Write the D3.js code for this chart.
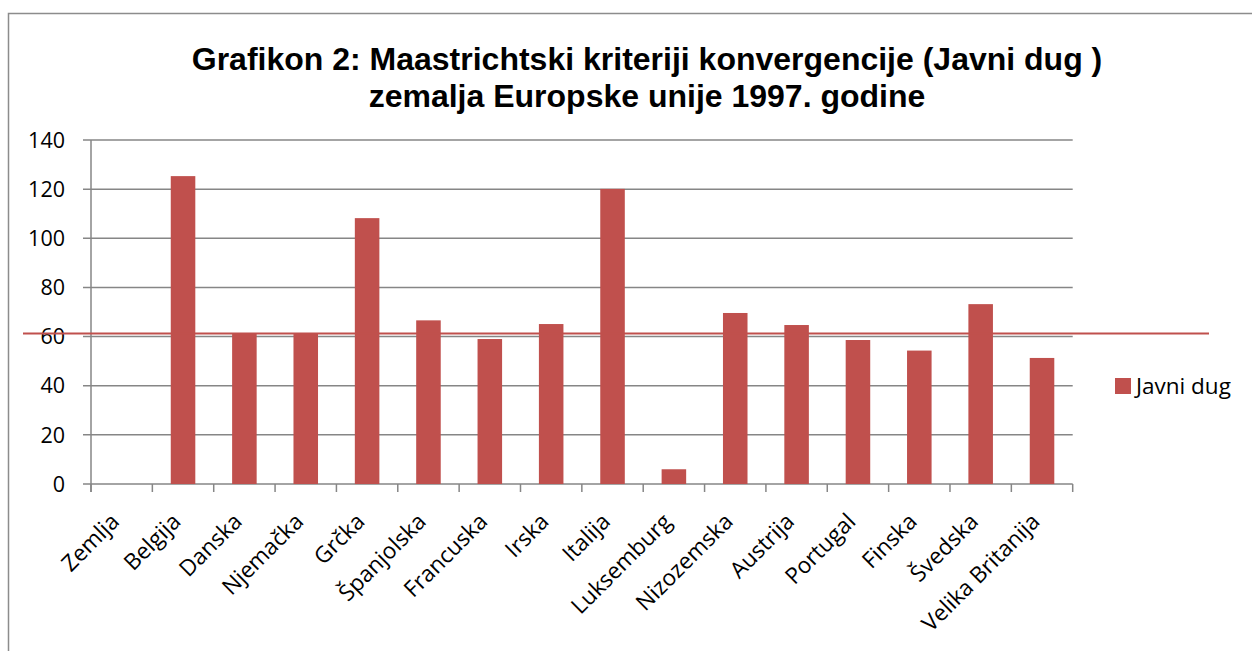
<!DOCTYPE html>
<html>
<head>
<meta charset="utf-8">
<script src="https://cdn.jsdelivr.net/npm/d3@7"></script>
<style>
  body { margin: 0; background: #fff; }
  svg { display: block; }
</style>
</head>
<body>
<svg id="chart"></svg>
<script>
'use strict'

// data
const categories = ['Zemlja', 'Belgija', 'Danska', 'Njemačka', 'Grčka', 'Španjolska', 'Francuska', 'Irska',
  'Italija', 'Luksemburg', 'Nizozemska', 'Austrija', 'Portugal', 'Finska', 'Švedska', 'Velika Britanija']
const javniDug = [null, 125.3, 61.4, 61.3, 108.2, 66.6, 59.0, 65.1, 120.1, 6.0, 69.6, 64.7, 58.6, 54.3, 73.2, 51.3]
const yTicks = [0, 20, 40, 60, 80, 100, 120, 140]
const seriesName = 'Javni dug'
const limitValue = 61.3 // the hand-drawn red line
const titleLines = ['Grafikon 2: Maastrichtski kriteriji konvergencije (Javni dug )', 'zemalja Europske unije 1997. godine']

const width = 1252
const height = 651
const red = '#c0504d'
const grid = '#868686'
const labelFont = 'Open Sans, Noto Sans, sans-serif'

const plot = { left: 91, right: 1072.7, top: 140, bottom: 484 }

const svg = d3.select('#chart').attr('width', width).attr('height', height)

// outer frame of the chart object
svg.append('rect')
  .attr('x', 8.5).attr('y', 13.5)
  .attr('width', 1260).attr('height', 660)
  .attr('fill', 'none').attr('stroke', '#8c8c8c').attr('stroke-width', 1.5)

// title
svg.append('text')
  .attr('text-anchor', 'middle')
  .attr('font-family', 'Liberation Sans, Arial, sans-serif')
  .attr('font-weight', 'bold')
  .attr('font-size', 32)
  .selectAll('tspan')
  .data(titleLines)
  .enter().append('tspan')
    .attr('x', 647)
    .attr('y', (d, i) => 70 + i * 37)
    .text(d => d)

const x = d3.scaleBand().domain(categories).range([plot.left, plot.right]).paddingInner(0.6).paddingOuter(0.3)
const xStep = x.step()
const y = d3.scaleLinear().domain([0, 140]).range([plot.bottom, plot.top])

// horizontal gridlines
svg.append('g')
  .selectAll('line')
  .data(yTicks)
  .enter().append('line')
    .attr('x1', plot.left - 8).attr('x2', plot.right)
    .attr('y1', d => y(d)).attr('y2', d => y(d))
    .attr('stroke', grid).attr('stroke-width', 1.5)

// y axis line
svg.append('line')
  .attr('x1', plot.left).attr('x2', plot.left)
  .attr('y1', plot.top).attr('y2', plot.bottom + 8)
  .attr('stroke', grid).attr('stroke-width', 1.5)

// y labels
svg.append('g')
  .selectAll('text')
  .data(yTicks)
  .enter().append('text')
    .attr('x', 65)
    .attr('y', d => y(d))
    .attr('dy', '0.36em')
    .attr('text-anchor', 'end')
    .attr('font-family', labelFont)
    .attr('font-size', 21.5)
    .attr('fill', '#000')
    .text(d => d)

// x tick marks (between categories)
const xTickPos = d3.range(categories.length + 1).map(i => plot.left + i * xStep)
svg.append('g')
  .selectAll('line')
  .data(xTickPos)
  .enter().append('line')
    .attr('x1', d => d).attr('x2', d => d)
    .attr('y1', plot.bottom).attr('y2', plot.bottom + 8)
    .attr('stroke', grid).attr('stroke-width', 1.5)

// bars
svg.append('g')
  .selectAll('rect')
  .data(categories.map((c, i) => ({ c, v: javniDug[i] })).filter(d => d.v != null))
  .enter().append('rect')
    .attr('x', d => x(d.c))
    .attr('y', d => y(d.v))
    .attr('width', x.bandwidth())
    .attr('height', d => y(0) - y(d.v))
    .attr('fill', red)

// x labels rotated
svg.append('g')
  .selectAll('text')
  .data(categories)
  .enter().append('text')
    .attr('text-anchor', 'end')
    .attr('font-family', labelFont)
    .attr('font-size', 22.5)
    .attr('fill', '#000')
    .attr('transform', d => 'translate(' + (x(d) + x.bandwidth() / 2 - 1) + ',' + (plot.bottom + 39) + ') rotate(-45)')
    .text(d => d)

// red reference line drawn across the chart
svg.append('line')
  .attr('x1', 23).attr('x2', 1209)
  .attr('y1', y(limitValue)).attr('y2', y(limitValue))
  .attr('stroke', red).attr('stroke-width', 2)

// legend
const legend = svg.append('g').attr('transform', 'translate(1115,378)')
legend.append('rect').attr('width', 16).attr('height', 16).attr('fill', red)
legend.append('text')
  .attr('x', 21).attr('y', 8).attr('dy', '0.36em')
  .attr('font-family', labelFont)
  .attr('font-size', 22.5)
  .text(seriesName)
</script>
</body>
</html>
